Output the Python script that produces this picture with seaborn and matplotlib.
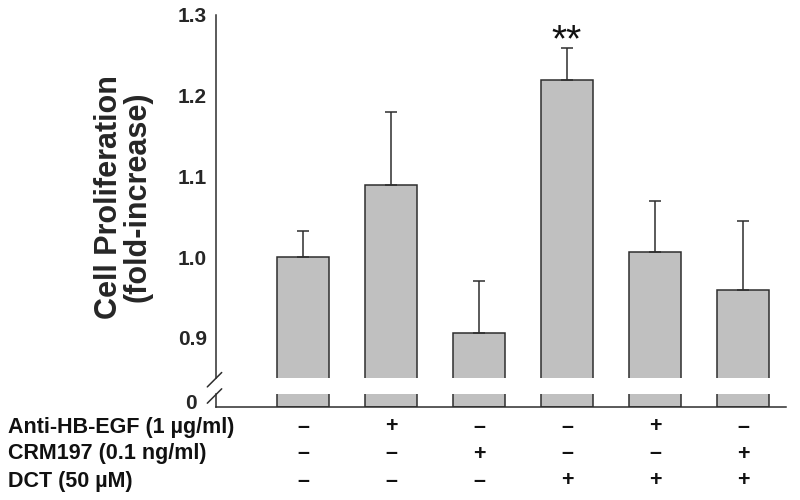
import matplotlib
matplotlib.use("Agg")
import matplotlib.pyplot as plt
import matplotlib.transforms as mtransforms
import seaborn as sns
import pandas as pd

# ---- data ----
conditions = ["Control", "Anti-HB-EGF", "CRM197", "DCT", "DCT+Anti-HB-EGF", "DCT+CRM197"]
fold_increase = [1.000, 1.089, 0.906, 1.219, 1.006, 0.959]
sem = [0.033, 0.091, 0.065, 0.040, 0.064, 0.086]
y_ticks = [0.9, 1.0, 1.1, 1.2, 1.3]
y_ticklabels = ["0.9", "1.0", "1.1", "1.2", "1.3"]
row_labels = ["Anti-HB-EGF (1 \u00b5g/ml)", "CRM197 (0.1 ng/ml)", "DCT (50 \u00b5M)"]
anti_signs = ["\u2013", "+", "\u2013", "\u2013", "+", "\u2013"]
crm_signs = ["\u2013", "\u2013", "+", "\u2013", "\u2013", "+"]
dct_signs = ["\u2013", "\u2013", "\u2013", "+", "+", "+"]
significance = ["", "", "", "**", "", ""]

df = pd.DataFrame({"condition": conditions, "value": fold_increase})

sns.set_theme(style="white")
plt.rcParams["font.family"] = ["Liberation Sans", "DejaVu Sans"]

W, H = 800, 500
fig = plt.figure(figsize=(8, 5), dpi=100)
left_px, right_px = 215.7, 786.0
ax_up = fig.add_axes([left_px / W, 1 - 378.3 / H, (right_px - left_px) / W, (378.3 - 15) / H])
ax_lo = fig.add_axes([left_px / W, 1 - 406.7 / H, (right_px - left_px) / W, (406.7 - 394.3) / H])

bar_color = "#c0c0c0"
edge = "#2e2e2e"
lw = 1.1

for ax in (ax_up, ax_lo):
    sns.barplot(data=df, x="condition", y="value", order=conditions, ax=ax,
                color=bar_color, saturation=1, edgecolor=edge, linewidth=lw,
                width=0.6, errorbar=None)
    ax.set_xlim(-0.992, 5.489)
    ax.set_xlabel("")
    ax.set_ylabel("")
    ax.set_xticks([])
    for s in ("top", "right"):
        ax.spines[s].set_visible(False)
    for s in ("left", "bottom"):
        ax.spines[s].set_color(edge)
        ax.spines[s].set_linewidth(lw)

# upper axis
ax_up.set_ylim(0.85, 1.3)
ax_up.spines["bottom"].set_visible(False)
xs = list(range(len(conditions)))
ax_up.errorbar(xs, fold_increase, yerr=[[0] * len(sem), sem], fmt="none",
               ecolor=edge, elinewidth=lw, capsize=4.2, capthick=lw, zorder=3)
ax_up.set_yticks(y_ticks)
ax_up.set_yticklabels(y_ticklabels)
ax_up.tick_params(axis="y", direction="in", length=7, width=lw, color=edge,
                  pad=6.3, labelsize=15)
for lbl in ax_up.get_yticklabels():
    lbl.set_fontweight("bold")
ax_up.set_ylabel("Cell Proliferation\n(fold-increase)", fontsize=22,
                 fontweight="bold", linespacing=0.95)
ax_up.yaxis.set_label_coords((153 - left_px) / (right_px - left_px), 0.5)

for x, v, e, s in zip(xs, fold_increase, sem, significance):
    if s:
        ax_up.annotate(s, xy=(x, v + e), xytext=(0, 4.6), textcoords="offset points",
                       ha="center", va="center", fontsize=28, color="#111111")

# lower axis
ax_lo.set_ylim(0, 0.05)
ax_lo.set_yticks([0])
ax_lo.set_yticklabels(["0"])
ax_lo.tick_params(axis="y", length=0, pad=14, labelsize=15)
off = mtransforms.ScaledTranslation(0, 5 / 100, fig.dpi_scale_trans)
for lbl in ax_lo.get_yticklabels():
    lbl.set_fontweight("bold")
    lbl.set_transform(lbl.get_transform() + off)

# break marks
for cy in (379.7, 396.0):
    fig.add_artist(plt.Line2D([(214.5 - 7.2) / W, (214.5 + 7.2) / W],
                              [1 - (cy + 7.2) / H, 1 - (cy - 7.2) / H],
                              color=edge, lw=lw, transform=fig.transFigure))

# condition table
trans = mtransforms.blended_transform_factory(ax_lo.transData, fig.transFigure)
rows = [anti_signs, crm_signs, dct_signs]
row_y = [427, 454, 481]
for label, signs, ypx in zip(row_labels, rows, row_y):
    fig.text(8 / W, 1 - ypx / H, label, ha="left", va="center", fontsize=15.5,
             fontweight="bold", color="#111111")
    for x, s in zip(xs, signs):
        ax_lo.text(x, 1 - ypx / H, s, transform=trans, ha="center", va="center",
                   fontsize=15.5, fontweight="bold", color="#111111")

fig.savefig("out.png", dpi=100)
